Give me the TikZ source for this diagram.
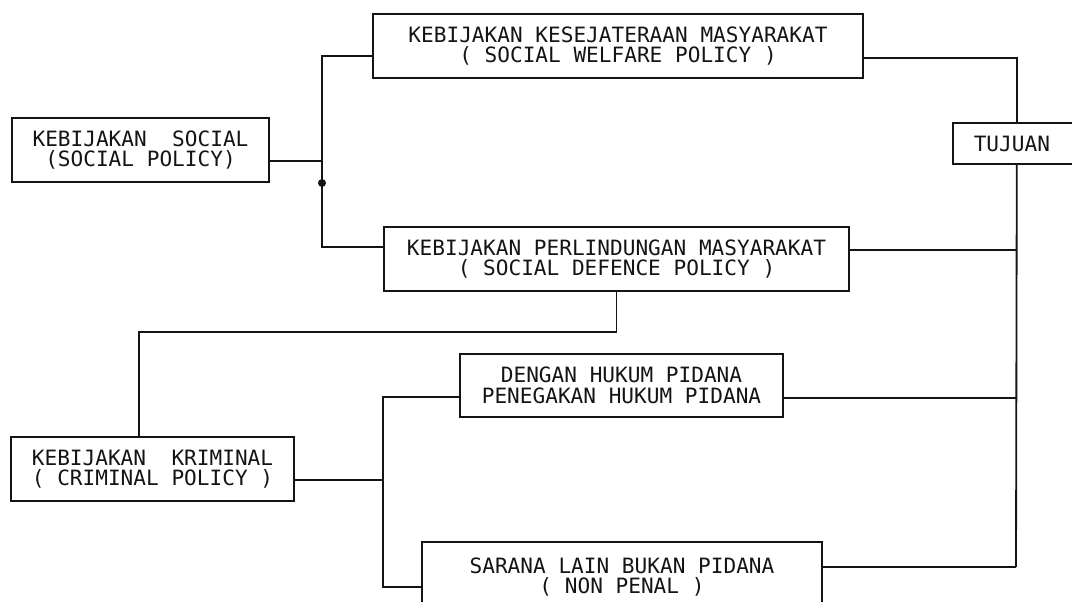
\documentclass[tikz,border=0pt]{standalone}
\usepackage{fontspec}
\usepackage{tikz}
\usetikzlibrary{positioning}
\newfontfamily\dotfont{DejaVu Sans Mono}
\definecolor{ink}{RGB}{20,20,20}
\tikzset{
  pbox/.style={draw=ink,line width=1.1pt,align=center,inner sep=2pt,
    font=\dotfont\fontsize{15}{14.5}\selectfont,text=ink,minimum height=1.6cm},
  wire/.style={draw=ink,line width=1.3pt},
  knot/.style={circle,fill=ink,inner sep=0pt,minimum size=0.2cm},
}
\begin{document}
\begin{tikzpicture}[x=0.025cm,y=-0.025cm]
  \useasboundingbox (0,0) rectangle (1072,602);
  \clip (0,0) rectangle (1072,602);
  % boxes
  \node[pbox,minimum width=6.425cm] (social) at (140.5,150) {KEBIJAKAN\ \ SOCIAL\\(SOCIAL POLICY)};
  \node[pbox,minimum width=12.25cm] (welfare) at (618,46) {KEBIJAKAN KESEJATERAAN MASYARAKAT\\( SOCIAL WELFARE POLICY )};
  \node[pbox,minimum width=11.625cm] (defence) at (616.5,259) {KEBIJAKAN PERLINDUNGAN MASYARAKAT\\( SOCIAL DEFENCE POLICY )};
  \node[pbox,anchor=west,text width=2.15cm,align=left,inner xsep=0.525cm,minimum height=1.025cm] (tujuan) at (952,143.5) {TUJUAN};
  \node[pbox,minimum width=7.075cm] (criminal) at (152.5,469) {KEBIJAKAN\ \ KRIMINAL\\( CRIMINAL POLICY )};
  \node[pbox,minimum width=8.075cm,minimum height=1.575cm] (penal) at (621.5,385.5) {DENGAN HUKUM PIDANA\\PENEGAKAN HUKUM PIDANA};
  \node[pbox,minimum width=10cm,minimum height=1.75cm] (nonpenal) at (622,577) {SARANA LAIN BUKAN PIDANA\\( NON PENAL )};
  % junction points
  \coordinate (jtop) at (322,56);
  \coordinate (jmid) at (322,161);
  \coordinate (jbot) at (322,247);
  \node[knot] (dot) at (322,183) {};
  \coordinate (rtop) at (1016,58);
  \coordinate (rdef) at (1016,250);
  \coordinate (rpen) at (1016,398);
  \coordinate (rbot) at (1016,567);
  \coordinate (kbend) at (139,332);
  \coordinate (ltop) at (383,397);
  \coordinate (lmid) at (383,480);
  \coordinate (lbot) at (383,587);
  % connectors
  \draw[wire] (social.east |- jmid) -- (jmid);
  \draw[wire] (welfare.west |- jtop) -- (jtop) -- (jbot) -- (defence.west |- jbot);
  \draw[wire] (welfare.east |- rtop) -| (tujuan.north);
  \draw[wire] (tujuan.south) -- (rbot);
  \draw[wire] (defence.east |- rdef) -- (rdef);
  \draw[wire] (penal.east |- rpen) -- (rpen);
  \draw[wire] (nonpenal.east |- rbot) -- (rbot);
  \draw[wire] (defence.south) |- (kbend) -- (criminal.north -| kbend);
  \draw[wire] (criminal.east |- lmid) -- (lmid);
  \draw[wire] (penal.west |- ltop) -- (ltop) -- (lbot) -- (nonpenal.west |- lbot);
\end{tikzpicture}
\end{document}
